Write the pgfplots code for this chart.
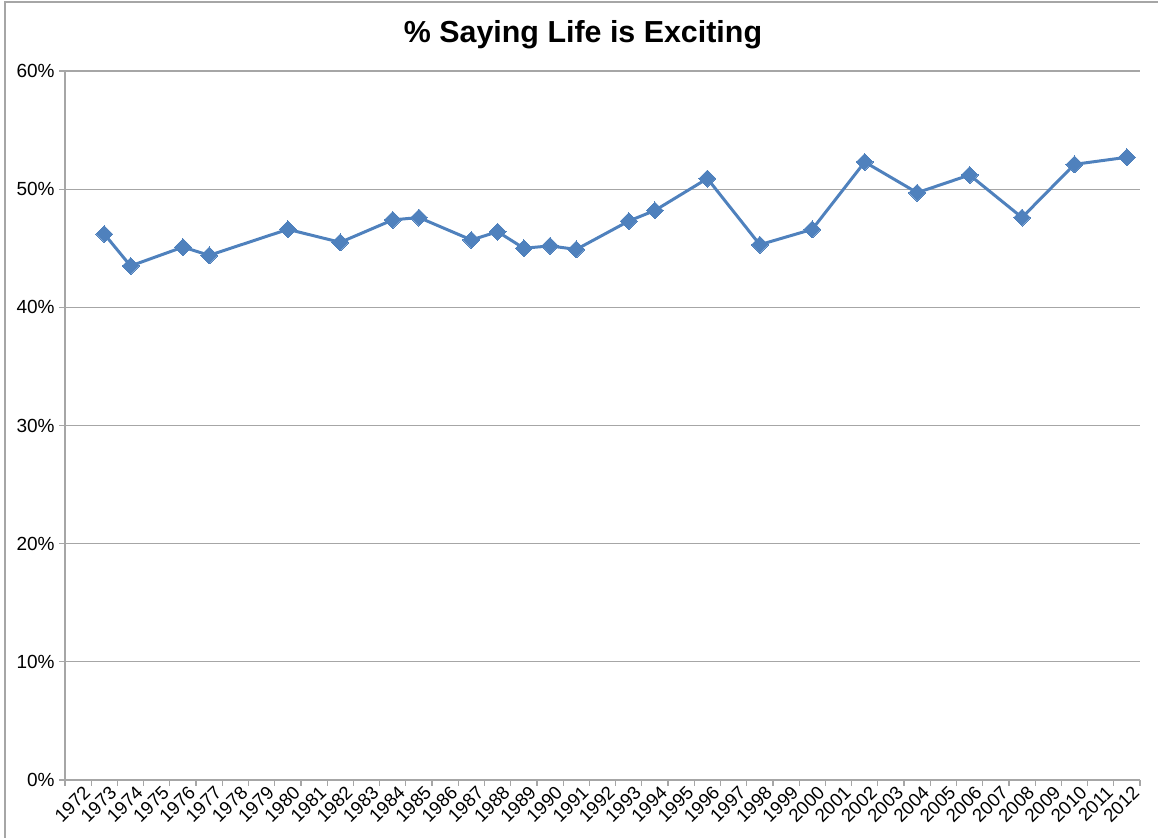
\documentclass[border=0pt]{standalone}
\usepackage{pgfplots}
\pgfplotsset{compat=1.18}
\usepackage{fontspec}
\setmainfont{Liberation Sans}
\definecolor{line}{HTML}{4F81BD}
\definecolor{gridc}{HTML}{A6A6A6}
\begin{document}
\begin{tikzpicture}
\useasboundingbox (-32.5pt,-29pt) rectangle (546.5pt,390pt);
\draw[gridc, line width=0.9pt] (-30pt,-40pt) -- (-30pt,389pt) -- (560pt,389pt);
\begin{axis}[
  at={(0pt,0pt)}, anchor=south west,
  scale only axis,
  width=537.5pt, height=354.5pt,
  xmin=-0.5, xmax=40.5, ymin=0, ymax=60,
  xtick={0,...,40},
  xticklabels={1972,1973,1974,1975,1976,1977,1978,1979,1980,1981,1982,1983,1984,1985,1986,1987,1988,1989,1990,1991,1992,1993,1994,1995,1996,1997,1998,1999,2000,2001,2002,2003,2004,2005,2006,2007,2008,2009,2010,2011,2012},
  major x tick style={draw=none},
  minor xtick={-0.5,0.5,...,40.5},
  minor x tick style={gridc, line width=0.6pt},
  minor tick length=3pt,
  x tick label style={rotate=45, anchor=north east, font=\fontsize{9.3}{10}\selectfont, inner sep=1pt, xshift=3pt},
  ytick={0,10,...,60},
  yticklabel={\pgfmathprintnumber{\tick}\%},
  y tick label style={font=\fontsize{9.5}{10}\selectfont, inner sep=2pt},
  /pgf/number format/assume math mode=true,
  ymajorgrids,
  grid style={gridc, line width=0.6pt},
  major y tick style={gridc, line width=0.6pt},
  major tick length=3pt,
  tick align=outside,
  axis x line*=bottom, axis y line*=left,
  axis line style={gridc, line width=0.6pt},
  clip=false,
]
\addplot[color=line, line width=1.5pt, mark=square*, mark size=3pt, mark options={rotate=45, line width=0pt, fill=line}] coordinates {
(1,46.2) (2,43.5) (4,45.1) (5,44.4) (8,46.6) (10,45.5) (12,47.4) (13,47.6)
(15,45.7) (16,46.4) (17,45.0) (18,45.2) (19,44.9) (21,47.3) (22,48.2)
(24,50.9) (26,45.3) (28,46.6) (30,52.3) (32,49.7) (34,51.2) (36,47.6)
(38,52.1) (40,52.7)
};
\end{axis}
\node[font=\bfseries\fontsize{15.2}{17}\selectfont] at (259pt,372.5pt) {\% Saying Life is Exciting};
\end{tikzpicture}
\end{document}
